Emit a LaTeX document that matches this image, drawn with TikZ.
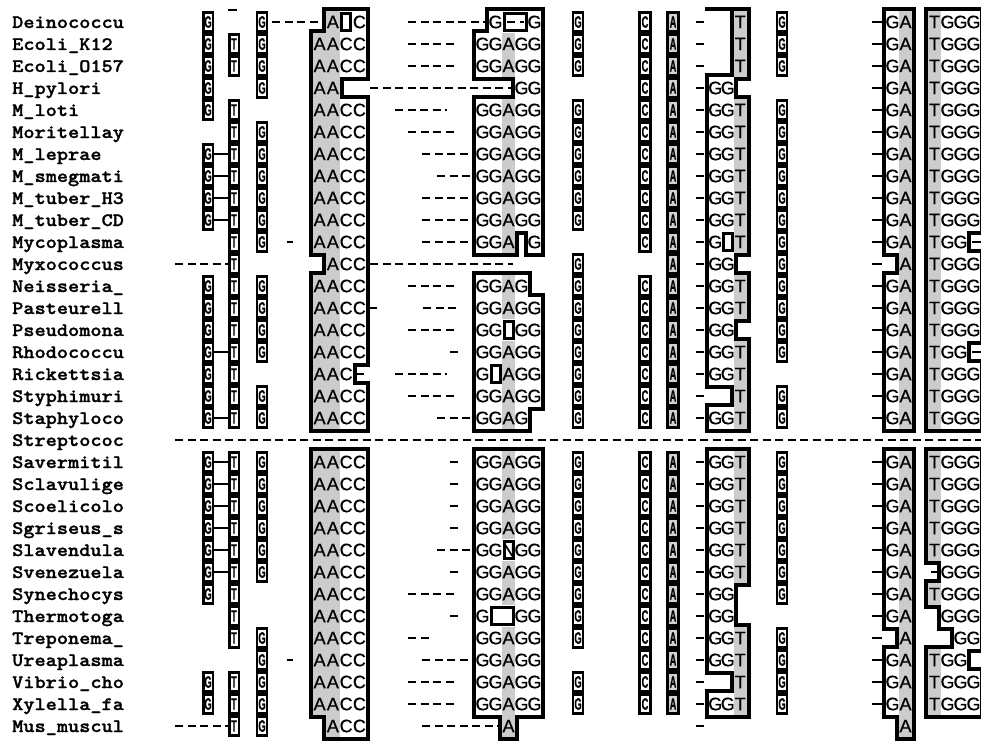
\documentclass[tikz,border=0pt]{standalone}
\usepackage{fontspec}
\usepackage{graphicx}
\newfontfamily\seqfont{Liberation Sans}[FakeBold=0.6]
\newfontfamily\namefont{lmmonolt10-bold.otf}[FakeBold=1.2]

% 比对块：先画粗边框，再填白，得到并集轮廓
\newcommand{\blockparts}[3]{%
  \foreach \ca/\cb/\ra/\rb in {#3}
    \draw[blkline] ({#1+(\ca-1)*#2},{11+22*\ra}) rectangle ({#1+\cb*#2},{33+22*\rb});
  \foreach \ca/\cb/\ra/\rb in {#3}
    \fill[white] ({#1+(\ca-1)*#2},{11+22*\ra}) rectangle ({#1+\cb*#2},{33+22*\rb});
}
% 阴影列
\newcommand{\shadeparts}[3]{%
  \foreach \ca/\cb/\ra/\rb in {#3}
    \fill[stip] ({#1+(\ca-1)*#2},{11+22*\ra}) rectangle ({#1+\cb*#2},{33+22*\rb});
}
% 空位方框
\newcommand{\holecell}[5]{%
  \draw[holebox] ({#1+(#3-1)*#2+2},{13.5+22*#5}) rectangle ({#1+#4*#2-2},{30.5+22*#5});
}
% 一行碱基
\newcommand{\seqrow}[4]{%
  \foreach \ch [count=\i] in {#4}
    \node[seqtxt] at ({#1+(\i-0.5)*#2},{22+22*#3}) {\ch};
}
% 窄列
\newcommand{\narrowcol}[5]{%
  \foreach \r in {#5} {
    \draw[colcell, fill=#4] ({#1-#2},{12.6+22*\r}) rectangle ({#1+#2},{31.4+22*\r});
    \node[coltxt] at (#1,{22+22*\r}) {\scalebox{0.62}[1.1]{#3}};
  }
}

\begin{document}
\begin{tikzpicture}[x=1pt, y=-1pt, line join=miter,
    blkline/.style={line width=8pt},
    stip/.style={fill=gray!40},
    holebox/.style={line width=3pt, fill=white},
    colcell/.style={line width=2.6pt},
    gapline/.style={line width=2.2pt, dash pattern=on 8pt off 4.5pt},
    tick/.style={line width=2.2pt},
    seqtxt/.style={font=\seqfont\fontsize{18}{18}\selectfont, inner sep=0pt},
    coltxt/.style={font=\seqfont\bfseries\fontsize{15}{15}\selectfont, inner sep=0pt},
    namtxt/.style={font=\namefont\fontsize{19}{19}\selectfont, anchor=base west, inner sep=0pt}]
    \useasboundingbox (0,0) rectangle (981,741);
    \clip (0,0) rectangle (981,741);

    % 物种名
    \foreach \nm [count=\r from 0] in {Deinococcu, Ecoli\_K12, Ecoli\_O157, H\_pylori, M\_loti,
        Moritellay, M\_leprae, M\_smegmati, M\_tuber\_H3, M\_tuber\_CD, Mycoplasma, Myxococcus,
        Neisseria\_, Pasteurell, Pseudomona, Rhodococcu, Rickettsia, Styphimuri, Staphyloco,
        Streptococ, Savermitil, Sclavulige, Scoelicolo, Sgriseus\_s, Slavendula, Svenezuela,
        Synechocys, Thermotoga, Treponema\_, Ureaplasma, Vibrio\_cho, Xylella\_fa, Mus\_muscul}
      \node[namtxt] (lab\r) at (12,{28+22*\r}) {\scalebox{1.12}[1]{\nm}};

    % 块 AACC
    \blockparts{313}{13.25}{2/4/0/0, 1/4/1/2, 1/2/3/3, 1/4/4/10, 2/4/11/11, 1/4/12/15,
        1/3/16/16, 1/4/17/18, 1/4/20/31, 2/4/32/32}
    \shadeparts{313}{13.25}{2/2/0/0, 1/2/1/10, 2/2/11/11, 1/2/12/18, 1/2/20/31, 2/2/32/32}
    \holecell{313}{13.25}{3}{3}{0}
    \foreach \r in {1,2,4,5,6,7,8,9,10,12,13,14,15,17,18,20,21,22,23,24,25,26,27,28,29,30,31}
      \seqrow{313}{13.25}{\r}{A,A,C,C};
    \seqrow{313}{13.25}{0}{{},A,{},C}
    \seqrow{313}{13.25}{3}{A,A}
    \seqrow{313}{13.25}{11}{{},A,C,C}
    \seqrow{313}{13.25}{16}{A,A,C}
    \seqrow{313}{13.25}{32}{{},A,C,C}

    % 块 GGAGG
    \blockparts{476}{13}{2/5/0/0, 1/5/1/2, 4/5/3/3, 1/5/4/9, 1/3/10/10, 5/5/10/10, 1/4/12/12,
        1/5/13/17, 1/4/18/18, 1/5/20/31, 3/3/32/32}
    \shadeparts{476}{13}{3/3/1/2, 3/3/4/10, 3/3/12/13, 3/3/15/18, 3/3/20/23, 3/3/25/26, 3/3/28/32}
    \holecell{476}{13}{3}{4}{0}
    \holecell{476}{13}{3}{3}{14}
    \holecell{476}{13}{2}{2}{16}
    \holecell{476}{13}{3}{3}{24}
    \holecell{476}{13}{2}{3}{27}
    \foreach \r in {1,2,4,5,6,7,8,9,13,15,17,20,21,22,23,25,26,28,29,30,31}
      \seqrow{476}{13}{\r}{G,G,A,G,G};
    \seqrow{476}{13}{0}{{},G,{},{},G}
    \seqrow{476}{13}{3}{{},{},{},G,G}
    \seqrow{476}{13}{10}{G,G,A,{},G}
    \seqrow{476}{13}{12}{G,G,A,G}
    \seqrow{476}{13}{14}{G,G,{},G,G}
    \seqrow{476}{13}{16}{G,{},A,G,G}
    \seqrow{476}{13}{18}{G,G,A,G}
    \seqrow{476}{13}{24}{G,G,N,G,G}
    \seqrow{476}{13}{27}{G,{},{},G,G}
    \seqrow{476}{13}{32}{{},{},A}
    \draw[gapline] (507,22) -- (524,22);

    % 块 GGT
    \blockparts{709}{12.5}{3/3/0/2, 1/2/3/3, 1/3/4/10, 1/2/11/11, 1/3/12/13, 1/2/14/14,
        1/3/15/16, 3/3/17/17, 1/3/18/18, 1/3/20/25, 1/2/26/27, 1/3/28/29, 3/3/30/30, 1/3/31/31}
    \shadeparts{709}{12.5}{3/3/0/2, 3/3/4/10, 3/3/12/13, 3/3/15/18, 3/3/20/25, 3/3/28/31}
    \holecell{709}{12.5}{2}{2}{10}
    \draw[line width=3.5pt] (705,9.25) -- (734,9.25);
    \foreach \r in {4,5,6,7,8,9,12,13,15,16,18,20,21,22,23,24,25,28,29,31}
      \seqrow{709}{12.5}{\r}{G,G,T};
    \foreach \r in {0,1,2,17,30}
      \seqrow{709}{12.5}{\r}{{},{},T};
    \foreach \r in {3,11,14,26,27}
      \seqrow{709}{12.5}{\r}{G,G};
    \seqrow{709}{12.5}{10}{G,{},T}

    % 块 GA
    \blockparts{886}{13}{1/2/0/10, 2/2/11/11, 1/2/12/18, 1/2/20/27, 2/2/28/28, 1/2/29/31, 2/2/32/32}
    \shadeparts{886}{13}{2/2/0/18, 2/2/20/32}
    \foreach \r in {0,1,2,3,4,5,6,7,8,9,10,12,13,14,15,16,17,18,20,21,22,23,24,25,26,27,29,30,31}
      \seqrow{886}{13}{\r}{G,A};
    \foreach \r in {11,28,32}
      \seqrow{886}{13}{\r}{{},A};

    % 块 TGGG
    \blockparts{928}{13}{1/4/0/9, 1/3/10/10, 1/4/11/14, 1/3/15/15, 1/4/16/18, 1/4/20/24,
        2/4/25/25, 1/4/26/26, 2/4/27/27, 3/4/28/28, 1/3/29/29, 1/4/30/31}
    \shadeparts{928}{13}{1/1/0/18, 1/1/20/24, 1/1/26/26, 1/1/29/31}
    \foreach \r in {0,1,2,3,4,5,6,7,8,9,11,12,13,14,16,17,18,20,21,22,23,24,26,30,31}
      \seqrow{928}{13}{\r}{T,G,G,G};
    \foreach \r in {10,15,29}
      \seqrow{928}{13}{\r}{T,G,G};
    \foreach \r in {25,27}
      \seqrow{928}{13}{\r}{{},G,G,G};
    \seqrow{928}{13}{28}{{},{},G,G}

    % 窄列
    \narrowcol{208}{4.8}{G}{white}{0,1,2,3,4,6,7,8,9,12,13,14,15,16,17,18,20,21,22,23,24,25,26,30,31}
    \narrowcol{234}{4.8}{T}{white}{1,2,4,5,6,7,8,9,10,11,12,13,14,15,16,17,18,20,21,22,23,24,25,26,27,28,30,31,32}
    \narrowcol{262}{5}{G}{white}{0,1,2,3,5,6,7,8,9,10,12,13,14,15,17,18,20,21,22,23,24,25,28,29,30,31,32}
    \narrowcol{578}{5}{G}{white}{0,1,2,4,5,6,7,8,9,11,12,13,14,15,16,17,18,20,21,22,23,24,25,26,27,28,30,31}
    \narrowcol{645}{5.5}{C}{white}{0,1,2,3,4,5,6,7,8,9,10,12,13,14,15,16,17,18,20,21,22,23,24,25,26,27,28,29,30,31}
    \narrowcol{673}{5.5}{A}{gray!35}{0,1,2,3,4,5,6,7,8,9,10,11,12,13,14,15,16,17,18,20,21,22,23,24,25,26,27,28,29,30,31}
    \narrowcol{782}{5}{G}{white}{0,1,2,4,5,6,7,8,9,10,11,12,13,14,15,17,18,20,21,22,23,24,25,26,28,29,30,31}

    % G 与 T 之间的连线
    \foreach \r in {6,7,8,9,15,18,20,21,22,23,24,25}
      \draw[tick] (214,{22+22*\r}) -- (228,{22+22*\r});

    % 空位虚线
    \draw[tick] (228,10) -- (237,10);
    \draw[gapline] (272,22) -- (323,22);
    \draw[gapline] (408,22) -- (486,22);
    \foreach \r in {1,2,5,12,14,17,26,30,31}
      \draw[gapline] (408,{22+22*\r}) -- (458,{22+22*\r});
    \foreach \r in {4,16}
      \draw[gapline] (395,{22+22*\r}) -- (447,{22+22*\r});
    \foreach \r in {6,8,9,10,29}
      \draw[gapline] (422,{22+22*\r}) -- (473,{22+22*\r});
    \foreach \r in {7,18,24}
      \draw[gapline] (437,{22+22*\r}) -- (473,{22+22*\r});
    \foreach \r in {15,20,21,22,23,25,27}
      \draw[tick] (450,{22+22*\r}) -- (458,{22+22*\r});
    \draw[gapline] (370,88) -- (512,88);
    \draw[gapline] (175,264) -- (229,264);
    \draw[gapline] (370,264) -- (513,264);
    \draw[tick] (370,308) -- (377,308);
    \draw[gapline] (423,308) -- (458,308);
    \draw[tick] (357,374) -- (364,374);
    \draw[gapline] (175,440) -- (981,440);
    \draw[gapline] (408,638) -- (430,638);
    \draw[gapline] (175,726) -- (229,726);
    \draw[gapline] (422,726) -- (498,726);
    \draw[tick] (287,242) -- (293,242);
    \draw[tick] (287,660) -- (293,660);
    \foreach \r in {0,1,2,3,4,5,6,7,8,9,10,11,12,13,14,15,16,17,18,20,21,22,23,24,25,26,27,28,29,30,31,32}
      \draw[tick] (696,{22+22*\r}) -- (704,{22+22*\r});
    \foreach \r in {0,1,2,3,4,5,6,7,8,9,10,11,12,13,14,15,16,17,18,20,21,22,23,24,25,26,27,28,29,30,31}
      \draw[tick] (872,{22+22*\r}) -- (882,{22+22*\r});
    \draw[tick] (972,242) -- (981,242);
    \draw[tick] (972,352) -- (981,352);
    \draw[tick] (931,572) -- (938,572);
\end{tikzpicture}
\end{document}
